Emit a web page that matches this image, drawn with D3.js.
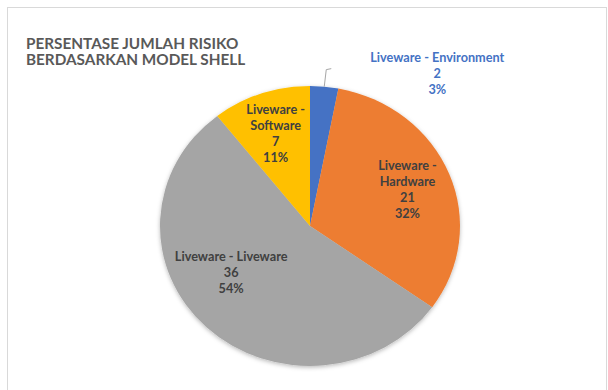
<!DOCTYPE html>
<html>
<head>
<meta charset="utf-8">
<script src="https://cdn.jsdelivr.net/npm/d3@7"></script>
<style>
  html, body { margin: 0; padding: 0; background: #fff; }
  svg { display: block; }
  text { font-family: Lato, "Open Sans", sans-serif; font-weight: bold; }
</style>
</head>
<body>
<svg id="chart" width="608" height="390"></svg>
<script>
// ---- data ----
const categories = ["Liveware - Environment", "Liveware - Hardware", "Liveware - Liveware", "Liveware - Software"];
const labelLines = [["Liveware - Environment"], ["Liveware -", "Hardware"], ["Liveware - Liveware"], ["Liveware -", "Software"]];
const values = [2, 21, 36, 7];
const percentLabels = ["3%", "32%", "54%", "11%"];
const colors = ["#4472c4", "#ed7d31", "#a5a5a5", "#ffc000"];
const titleLines = ["PERSENTASE JUMLAH RISIKO", "BERDASARKAN MODEL SHELL"];

// ---- layout ----
const W = 608, H = 390;
const cx = 310, cy = 226, rx = 150, ry = 140;
const svg = d3.select("#chart");

// frame
svg.append("rect").attr("x", 7.5).attr("y", 7.5).attr("width", 599).attr("height", 400)
  .attr("fill", "#fff").attr("stroke", "#d9d9d9").attr("stroke-width", 1);

// title
svg.append("g").selectAll("text").data(titleLines).join("text")
  .attr("x", 26).attr("y", (d, i) => 48.5 + i * 16.7)
  .attr("fill", "#595959").attr("font-size", 15.3)
  .text(d => d);

// shadow filter
const defs = svg.append("defs");
const f = defs.append("filter").attr("id", "sh").attr("x", "-10%").attr("y", "-10%").attr("width", "120%").attr("height", "120%");
f.append("feDropShadow").attr("dx", 0).attr("dy", 1.5).attr("stdDeviation", 2).attr("flood-color", "#000").attr("flood-opacity", 0.28);

const pie = d3.pie().sort(null).value(d => d.value);
const data = categories.map((c, i) => ({ name: c, value: values[i], pct: percentLabels[i], color: colors[i], lines: labelLines[i] }));
const arcs = pie(data);
const arc = d3.arc().innerRadius(0).outerRadius(rx);

const g = svg.append("g").attr("transform", `translate(${cx},${cy}) scale(1,${ry / rx})`);
g.append("g").attr("filter", "url(#sh)").selectAll("path").data(arcs).join("path")
  .attr("d", arc).attr("fill", d => d.data.color);

// label positions: polar (angle from 12 o'clock clockwise, fraction of radius)
function polar(angle, frac) {
  return [cx + Math.sin(angle) * rx * frac, cy - Math.cos(angle) * ry * frac];
}
const mid = d => (d.startAngle + d.endAngle) / 2;
const lh = 16, fs = 12.7;

arcs.forEach((d, i) => {
  const lines = d.data.lines.concat([String(d.data.value), d.data.pct]);
  let x, y, color = "#404040";
  if (i === 0) {
    // outside label with leader line
    const [px, py] = polar(mid(d), 1);
    svg.append("path")
      .attr("d", d3.line()([[px, py], [px + 2, py - 17], [px + 7, py - 18]]))
      .attr("fill", "none").attr("stroke", "#a6a6a6").attr("stroke-width", 1);
    x = px + 113; y = py - 13.5;
    color = d.data.color;
  } else if (i === 2) {
    [x, y] = polar(mid(d) + 0.25, 0.62);
  } else {
    [x, y] = polar(mid(d), 0.70);
  }
  const n = lines.length;
  svg.append("g").selectAll("text").data(lines).join("text")
    .attr("x", x).attr("y", (t, k) => y + (k - (n - 1) / 2) * lh + 4.5)
    .attr("text-anchor", "middle").attr("font-size", fs).attr("fill", color)
    .text(t => t);
});
</script>
</body>
</html>
